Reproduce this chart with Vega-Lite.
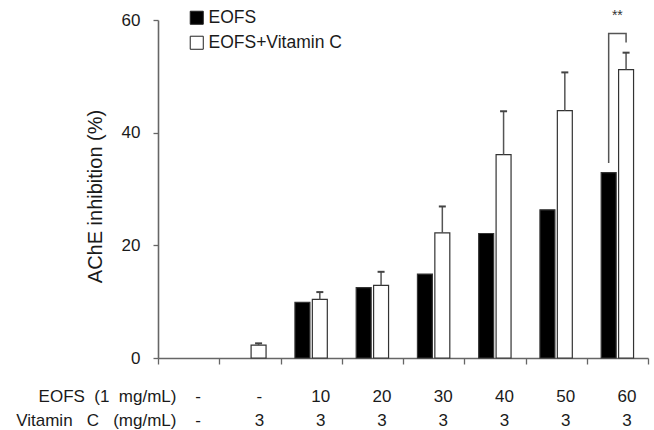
{
  "$schema": "https://vega.github.io/schema/vega-lite/v6.json",
  "width": 490,
  "height": 338,
  "autosize": {"type": "none"},
  "padding": {"left": 158, "top": 20, "right": 6, "bottom": 72},
  "background": "white",
  "config": {
    "view": {"stroke": null},
    "font": "Liberation Sans",
    "axis": {"labelFont": "Liberation Sans", "titleFont": "Liberation Sans"}
  },
  "datasets": {
    "bars": [
      {"grp": "-|-", "series": "EOFS", "value": null, "err": null},
      {"grp": "-|-", "series": "EOFS+Vitamin C", "value": null, "err": null},
      {"grp": "-|3", "series": "EOFS", "value": null, "err": null},
      {"grp": "-|3", "series": "EOFS+Vitamin C", "value": 2.3, "err": 0.3},
      {"grp": "10|3", "series": "EOFS", "value": 9.9, "err": null},
      {"grp": "10|3", "series": "EOFS+Vitamin C", "value": 10.4, "err": 1.3},
      {"grp": "20|3", "series": "EOFS", "value": 12.5, "err": null},
      {"grp": "20|3", "series": "EOFS+Vitamin C", "value": 12.9, "err": 2.4},
      {"grp": "30|3", "series": "EOFS", "value": 14.9, "err": null},
      {"grp": "30|3", "series": "EOFS+Vitamin C", "value": 22.2, "err": 4.7},
      {"grp": "40|3", "series": "EOFS", "value": 22.1, "err": null},
      {"grp": "40|3", "series": "EOFS+Vitamin C", "value": 36.1, "err": 7.7},
      {"grp": "50|3", "series": "EOFS", "value": 26.3, "err": null},
      {"grp": "50|3", "series": "EOFS+Vitamin C", "value": 43.9, "err": 6.8},
      {"grp": "60|3", "series": "EOFS", "value": 32.9, "err": null},
      {"grp": "60|3", "series": "EOFS+Vitamin C", "value": 51.2, "err": 3.0}
    ],
    "bracket": [
      {"grp": "60|3", "series": "EOFS", "y": 34.6, "ord": 1},
      {"grp": "60|3", "series": "EOFS", "y": 57.6, "ord": 2},
      {"grp": "60|3", "series": "EOFS+Vitamin C", "y": 57.6, "ord": 3},
      {"grp": "60|3", "series": "EOFS+Vitamin C", "y": 56.0, "ord": 4}
    ],
    "star": [
      {"grp": "60|3", "y": 60.7, "label": "**"}
    ]
  },
  "encoding": {
    "x": {
      "field": "grp",
      "type": "nominal",
      "sort": null,
      "scale": {"domain": ["-|-", "-|3", "10|3", "20|3", "30|3", "40|3", "50|3", "60|3"], "paddingInner": 0, "paddingOuter": 0},
      "axis": {
        "title": ["EOFS\u00a0 (1\u00a0 mg/mL)", "Vitamin\u00a0\u00a0 C\u00a0\u00a0 (mg/mL)"],
        "titleX": 18,
        "titleY": 30,
        "titleAlign": "right",
        "titleAnchor": null,
        "titleBaseline": "top",
        "titleAngle": 0,
        "titleFontSize": 17,
        "titleFontWeight": "normal",
        "titleColor": "#1a1a1a",
        "titleLineHeight": 24,
        "labelExpr": "datum.value ? split(datum.value, '|') : ''",
        "labelAngle": 0,
        "labelFontSize": 17,
        "labelColor": "#1a1a1a",
        "labelLineHeight": 24,
        "labelPadding": 24,
        "labelOffset": 9,
        "labelBaseline": "top",
        "tickBand": "extent",
        "tickSize": 6,
        "tickColor": "#666",
        "tickWidth": 1.3,
        "domainColor": "#666",
        "domainWidth": 1.6
      }
    }
  },
  "layer": [
    {
      "data": {"name": "bars"},
      "mark": {"type": "bar", "stroke": "#333", "strokeWidth": 1.2},
      "encoding": {
        "xOffset": {"field": "series", "type": "nominal", "scale": {"domain": ["EOFS", "EOFS+Vitamin C"], "paddingInner": 0.14, "paddingOuter": 0.83}},
        "y": {
          "field": "value",
          "type": "quantitative",
          "scale": {"domain": [0, 60], "nice": false},
          "axis": {
            "values": [0, 20, 40, 60],
            "grid": false,
            "title": "AChE inhibition (%)",
            "titleFontSize": 20,
            "titleFontWeight": "normal",
            "titleColor": "#1a1a1a",
            "titleX": -63,
            "titleY": 176,
            "titleAngle": -90,
            "titleBaseline": "middle",
            "titleAlign": "center",
            "labelFontSize": 17,
            "labelColor": "#1a1a1a",
            "labelPadding": 13,
            "tickSize": 5,
            "tickColor": "#666",
            "tickWidth": 1.3,
            "domainColor": "#666",
            "domainWidth": 1.6
          }
        },
        "fill": {
          "field": "series",
          "type": "nominal",
          "scale": {"domain": ["EOFS", "EOFS+Vitamin C"], "range": ["#000000", "#ffffff"]},
          "legend": {
            "title": null,
            "orient": "none",
            "legendX": 30,
            "legendY": -11,
            "symbolType": "square",
            "symbolSize": 170,
            "symbolStrokeColor": "#222",
            "symbolStrokeWidth": 1,
            "symbolOpacity": 1,
            "labelFontSize": 17.5,
            "labelColor": "#1a1a1a",
            "labelOffset": 3,
            "rowPadding": 6
          }
        }
      }
    },
    {
      "data": {"name": "bars"},
      "transform": [{"filter": "datum.err != null"}, {"calculate": "datum.value + datum.err", "as": "hi"}],
      "mark": {"type": "rule", "color": "#555", "strokeWidth": 1.5},
      "encoding": {
        "xOffset": {"field": "series", "type": "nominal", "scale": {"domain": ["EOFS", "EOFS+Vitamin C"], "paddingInner": 0.14, "paddingOuter": 0.83}},
        "y": {"field": "value", "type": "quantitative"},
        "y2": {"field": "hi"}
      }
    },
    {
      "data": {"name": "bars"},
      "transform": [{"filter": "datum.err != null"}, {"calculate": "datum.value + datum.err", "as": "hi"}],
      "mark": {"type": "tick", "color": "#444", "thickness": 2, "size": 7, "opacity": 1},
      "encoding": {
        "xOffset": {"field": "series", "type": "nominal", "scale": {"domain": ["EOFS", "EOFS+Vitamin C"], "paddingInner": 0.14, "paddingOuter": 0.83}},
        "y": {"field": "hi", "type": "quantitative"}
      }
    },
    {
      "data": {"name": "bracket"},
      "mark": {"type": "line", "color": "#555", "strokeWidth": 1.5, "clip": false},
      "encoding": {
        "xOffset": {"field": "series", "type": "nominal", "scale": {"domain": ["EOFS", "EOFS+Vitamin C"], "paddingInner": 0.14, "paddingOuter": 0.83}},
        "y": {"field": "y", "type": "quantitative"},
        "order": {"field": "ord", "type": "quantitative"}
      }
    },
    {
      "data": {"name": "star"},
      "mark": {"type": "text", "fontSize": 14, "color": "#333", "baseline": "middle", "clip": false},
      "encoding": {
        "y": {"field": "y", "type": "quantitative"},
        "text": {"field": "label"}
      }
    }
  ]
}
